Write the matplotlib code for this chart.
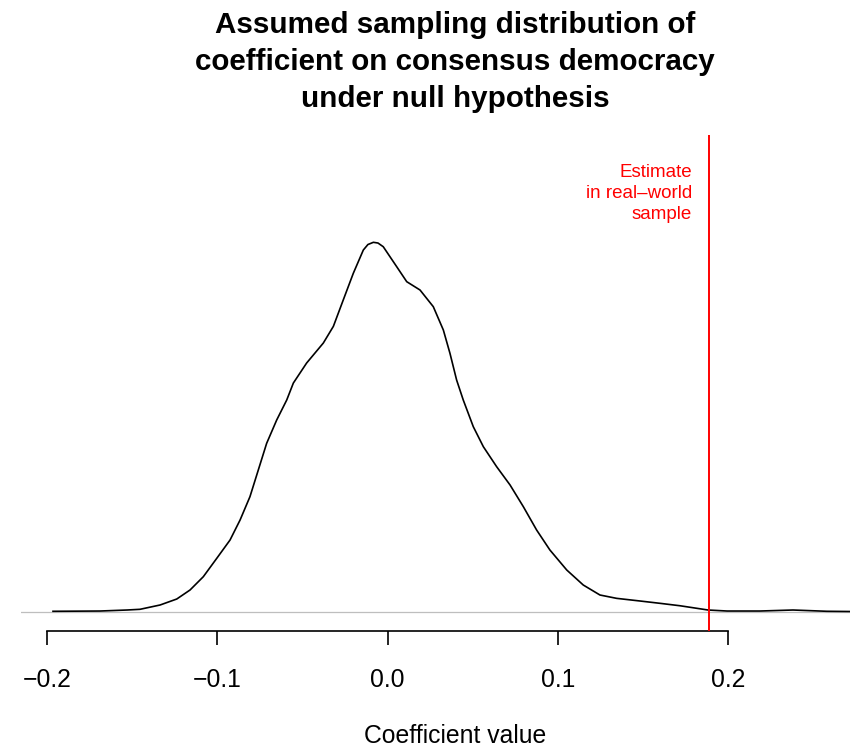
import matplotlib
matplotlib.use("Agg")
import matplotlib.pyplot as plt

plt.rcParams['font.family'] = ['Liberation Sans', 'DejaVu Sans']

# Density of the sampling distribution
coef_x = [-0.1965, -0.1689, -0.1530, -0.1454, -0.1336, -0.1238, -0.1160, -0.1082,
          -0.1003, -0.0925, -0.0866, -0.0808, -0.0759, -0.0710, -0.0651, -0.0592,
          -0.0553, -0.0475, -0.0377, -0.0318, -0.0260, -0.0201, -0.0142, -0.0115,
          -0.0083, -0.0056, -0.0025, 0.0054, 0.0113, 0.0191, 0.0269, 0.0328,
          0.0367, 0.0406, 0.0445, 0.0504, 0.0563, 0.0641, 0.0720, 0.0798,
          0.0876, 0.0954, 0.1053, 0.1150, 0.1248, 0.1346, 0.1483, 0.1601,
          0.1718, 0.1883, 0.1995, 0.2188, 0.2382, 0.2581, 0.2717]
density = [0.005, 0.011, 0.034, 0.050, 0.148, 0.284, 0.489, 0.791,
           1.209, 1.625, 2.080, 2.610, 3.216, 3.822, 4.352, 4.807,
           5.193, 5.648, 6.102, 6.481, 7.080, 7.686, 8.216, 8.341,
           8.391, 8.375, 8.291, 7.837, 7.496, 7.307, 6.928, 6.398,
           5.867, 5.261, 4.807, 4.200, 3.746, 3.292, 2.875, 2.382,
           1.852, 1.398, 0.943, 0.602, 0.375, 0.299, 0.239, 0.186,
           0.131, 0.034, 0.011, 0.011, 0.034, 0.005, 0.000]

estimate = 0.1888
tick_values = [-0.2, -0.1, 0.0, 0.1, 0.2]
tick_labels = ["\u22120.2", "\u22120.1", "0.0", "0.1", "0.2"]

title = "Assumed sampling distribution of\ncoefficient on consensus democracy\nunder null hypothesis"
xlabel = "Coefficient value"
annotation = "Estimate\nin real\u2013world\nsample"

W, H = 850, 749
fig = plt.figure(figsize=(W / 100, H / 100), dpi=100)
left_px, right_px, top_px, bottom_px = 21, 889, 135, 631
ax = fig.add_axes([left_px / W, (H - bottom_px) / H,
                   (right_px - left_px) / W, (bottom_px - top_px) / H])

ax.axhline(0, color='#BEBEBE', lw=0.9, zorder=1)
ax.plot(coef_x, density, color='black', lw=1.2, zorder=2,
        solid_joinstyle='round', antialiased=True)
ax.axvline(estimate, color='red', lw=1.4, zorder=3)
ax.text(estimate - 0.0098, 9.50, annotation, color='red', fontsize=13.5,
        ha='right', va='center', multialignment='right', linespacing=1.33)

ax.set_xlim(-0.2153, 0.2946)
ax.set_ylim(-0.443, 10.83)

for s in ['top', 'right', 'left']:
    ax.spines[s].set_visible(False)
ax.spines['bottom'].set_bounds(-0.2, 0.2)
ax.spines['bottom'].set_linewidth(1.2)
ax.set_yticks([])
ax.set_xticks(tick_values)
ax.set_xticklabels(tick_labels, fontsize=17.8)
ax.tick_params(axis='x', length=10, width=1.2, pad=16.5)
ax.set_xlabel(xlabel, fontsize=17.8, labelpad=23)
ax.set_title(title, fontsize=21.3, fontweight='bold', linespacing=1.41, pad=20)

fig.savefig("out.png", dpi=100)
